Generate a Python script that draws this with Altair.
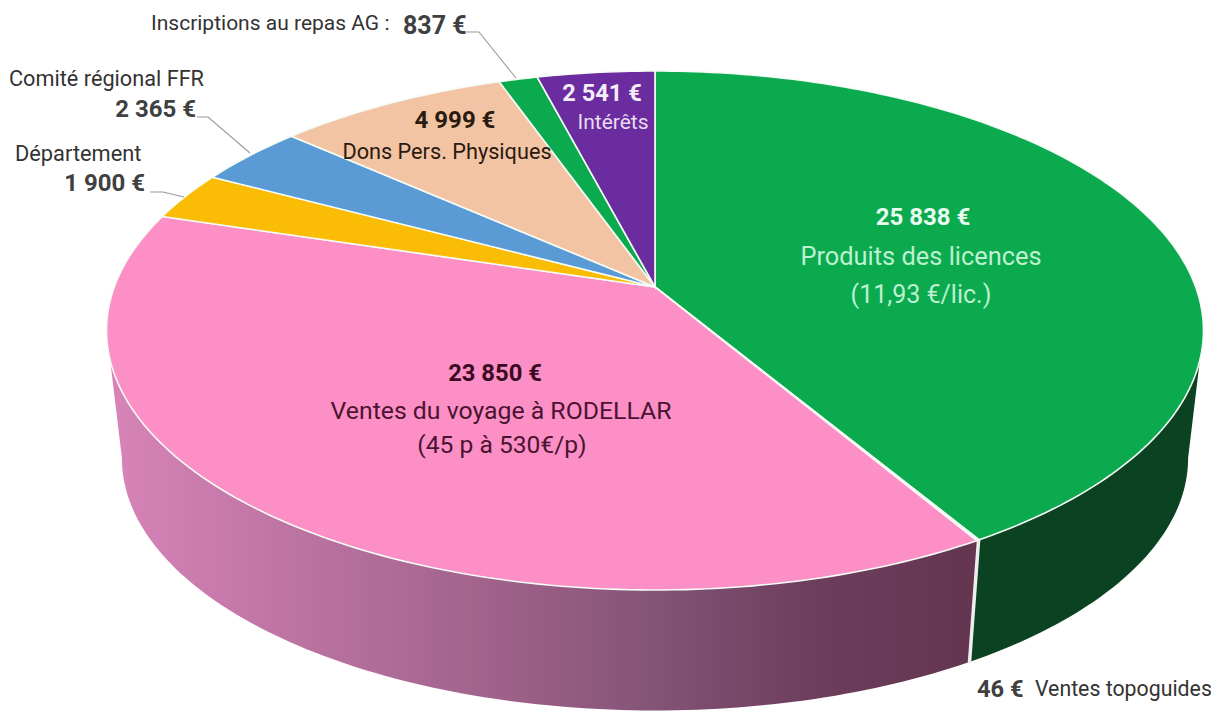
import math
import altair as alt

FONT = "Roboto"
categories = ["Produits des licences", "Ventes topoguides", "Ventes du voyage à RODELLAR", "Département",
              "Comité régional FFR", "Dons Pers. Physiques", "Inscriptions au repas AG", "Intérêts"]
values = [25838, 46, 23850, 1900, 2365, 4999, 837, 2541]
colors = ["#0BAA4F", "#F4F4F4", "#FB8FC6", "#FBBC05", "#5B9BD5", "#F2C4A4", "#0BAA4F", "#6A2C9E"]

# Perspective geometry of the disc (reference pixels)
CX, CY, A, B, K = 655.0, 287.0, 540.7, 252.2, 0.1676
BOTTOM_S, BOTTOM_CY = 0.972, 416.0
RIGHT_THETA, LEFT_THETA = 99.6, 260.4


def pt(theta, s=1.0, cy=CY):
    r = math.radians(theta)
    u, v = math.sin(r), -math.cos(r)
    w = 1 - K * v
    return [CX + s * A * u / w, cy + s * B * v / w]


def arc(t0, t1, s=1.0, cy=CY):
    n = max(2, int(abs(t1 - t0)) + 1)
    return [pt(t0 + (t1 - t0) * i / n, s, cy) for i in range(n + 1)]


def feature(ring, name, color):
    return {"type": "Feature", "properties": {"name": name, "color": color},
            "geometry": {"type": "Polygon", "coordinates": [ring + [ring[0]]]}}


total = sum(values)
edges = [0.0]
for v in values:
    edges.append(edges[-1] + v / total * 360)

top_faces = [feature([[CX, CY]] + arc(edges[i], edges[i + 1]), categories[i], colors[i]) for i in range(len(values))]


def wall(t0, t1, name, color):
    return feature(arc(t0, t1) + arc(t1, t0, BOTTOM_S, BOTTOM_CY), name, color)


PROJ = dict(type="identity", scale=1, translate=[-8, -8])


def shape(features, **kw):
    return alt.Chart(alt.Data(values=features)).mark_geoshape(**kw).project(**PROJ)


green_wall = shape([wall(RIGHT_THETA, edges[1], categories[0], "#0A4222")], fill="#0A4222", strokeWidth=0)
gap_wall = shape([wall(edges[1], edges[2], categories[1], "#EEEEEE")], fill="#EEEEEE", stroke="#EEEEEE", strokeWidth=2.5)
pink_wall = shape([wall(edges[2], LEFT_THETA, categories[2], "#000000")], strokeWidth=0,
                  fill=alt.Gradient(gradient="linear", x1=1, x2=0, y1=0, y2=0,
                                    stops=[alt.GradientStop(offset=0, color="#63354F"),
                                           alt.GradientStop(offset=0.2, color="#6E3F5E"),
                                           alt.GradientStop(offset=0.38, color="#855578"),
                                           alt.GradientStop(offset=0.525, color="#9C5F88"),
                                           alt.GradientStop(offset=0.72, color="#B46F9C"),
                                           alt.GradientStop(offset=1, color="#D884B8")]))
faces = (alt.Chart(alt.Data(values=top_faces))
         .mark_geoshape(stroke="#F5FBF5", strokeWidth=1.6)
         .encode(color=alt.Color("properties.color:N", scale=None, legend=None))
         .project(**PROJ))

X = alt.X("x:Q", scale=alt.Scale(domain=[8, 1211], range=[0, 1203]), axis=None)
Y = alt.Y("y:Q", scale=alt.Scale(domain=[8, 711], range=[0, 703]), axis=None)

leaders = [
    ("a", [(466, 32), (479, 32), (516, 78)]),
    ("b", [(197, 117), (208, 117), (250, 153)]),
    ("c", [(150, 192), (163, 192), (184, 197)]),
]
leader_rows = [{"k": k, "i": i, "x": p[0], "y": p[1]} for k, pts in leaders for i, p in enumerate(pts)]
leader_layer = alt.Chart(alt.Data(values=leader_rows)).mark_line(color="#9A9A9A", strokeWidth=1.1).encode(
    x=X, y=Y, detail="k:N", order="i:Q")

# text, x, y, align, size, bold, colour
labels = [
    ("Inscriptions au repas AG :", 151, 24, "left", 21, False, "#333333"),
    ("837 €", 403, 26, "left", 25, True, "#404040"),
    ("Comité régional FFR", 9, 79, "left", 21.7, False, "#333333"),
    ("2 365 €", 196, 110, "right", 24, True, "#404040"),
    ("Département", 15, 154, "left", 21.8, False, "#333333"),
    ("1 900 €", 145, 184, "right", 24, True, "#404040"),
    ("4 999 €", 455, 121, "center", 24, True, "#2A1A10"),
    ("Dons Pers. Physiques", 447, 152, "center", 21.7, False, "#2A1A10"),
    ("2 541 €", 602, 94, "center", 23.6, True, "#F4ECF8"),
    ("Intérêts", 613, 123, "center", 21, False, "#E8DCF0"),
    ("25 838 €", 923, 218, "center", 24, True, "#EAFBF0"),
    ("Produits des licences", 921, 257, "center", 25.4, False, "#BDF1CF"),
    ("(11,93 €/lic.)", 921, 295, "center", 25, False, "#BDF1CF"),
    ("23 850 €", 495, 374, "center", 23.8, True, "#3A0A22"),
    ("Ventes du voyage à RODELLAR", 501, 412, "center", 24.8, False, "#4A1430"),
    ("(45 p à 530€/p)", 502, 446, "center", 24.6, False, "#4A1430"),
    ("46 €", 977, 690, "left", 23.6, True, "#404040"),
    ("Ventes topoguides", 1035, 690, "left", 21.3, False, "#333333"),
]
text_layers = []
for t, x, y, al, sz, bold, col in labels:
    text_layers.append(
        alt.Chart(alt.Data(values=[{"x": x, "y": y, "t": t}]))
        .mark_text(align=al, baseline="middle", fontSize=sz, font=FONT,
                   fontWeight="bold" if bold else "normal", color=col)
        .encode(x=X, y=Y, text="t:N"))

chart = alt.layer(green_wall, gap_wall, pink_wall, faces, leader_layer, *text_layers).properties(
    width=1203, height=703, padding=0, background="#FFFFFF",
    autosize=alt.AutoSizeParams(type="none")
).configure_view(stroke=None)

chart.save("out.html", embed_options={"renderer": "svg", "actions": False})
